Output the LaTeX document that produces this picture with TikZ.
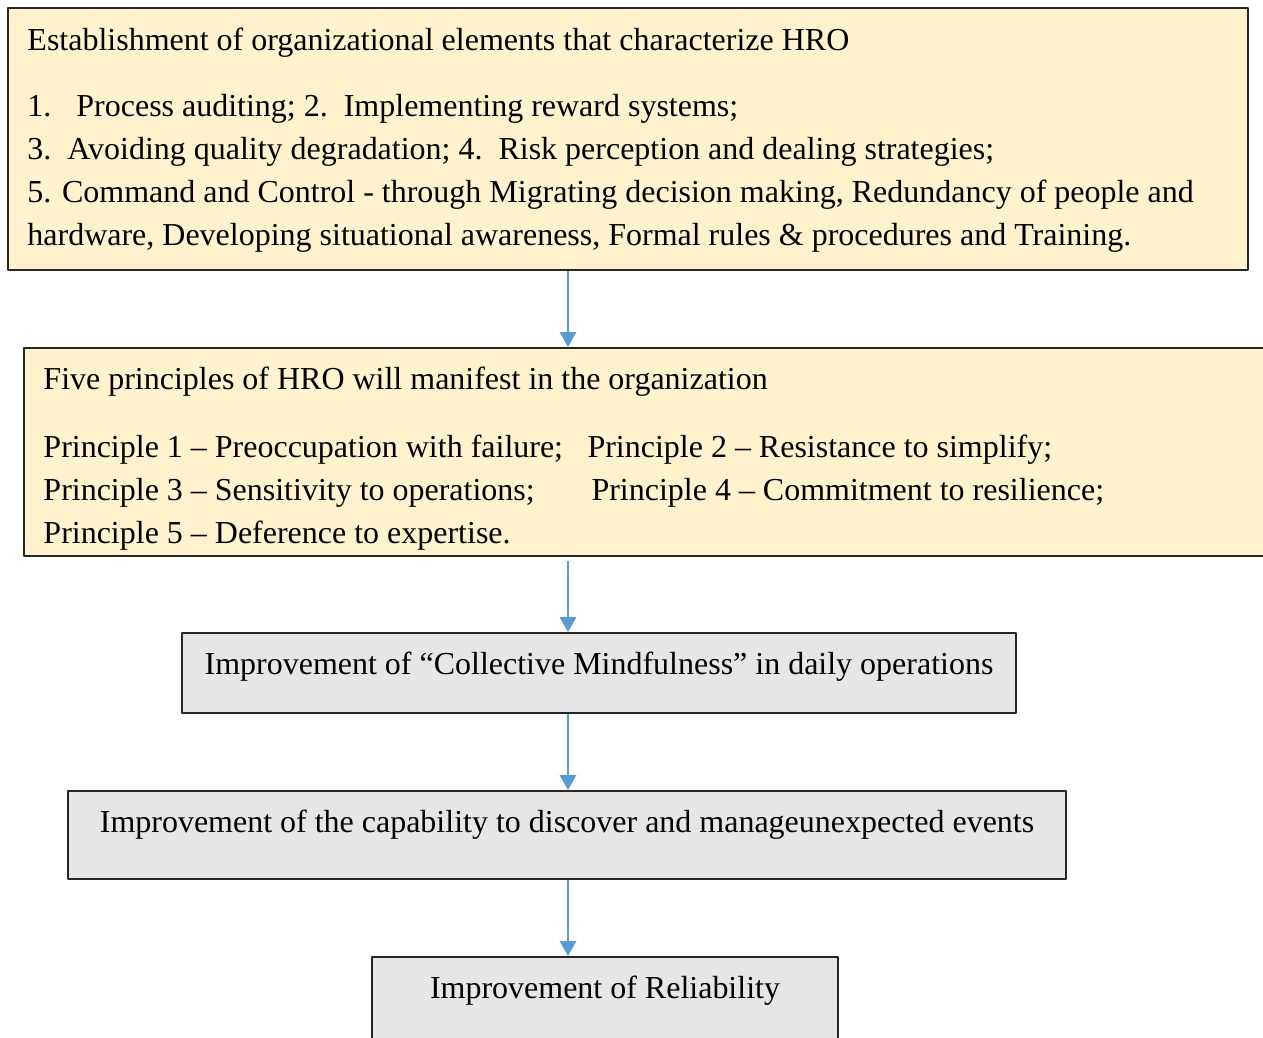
\documentclass[tikz,border=0pt]{standalone}
\usepackage{fontspec}
\setmainfont{Liberation Serif}
\usetikzlibrary{arrows.meta}
\definecolor{hrocream}{HTML}{FFF2CC}
\definecolor{hrogray}{HTML}{E6E6E6}
\definecolor{hroblue}{HTML}{5B9BD5}
\begin{document}
\begin{tikzpicture}[line join=round,
		every node/.style={font=\fontsize{18.2}{24.4}\selectfont},
		yellowbox/.style={draw=black!85,fill=hrocream,line width=1pt,inner sep=0pt},
		graybox/.style={draw=black!85,fill=hrogray,line width=1pt,inner sep=0pt},
		boxtext/.style={inner sep=0pt,align=left,anchor=north west},
		centertext/.style={inner sep=0pt,anchor=north},
		flow/.style={draw=hroblue,line width=1.6pt,-{Triangle[width=0.32cm,length=0.3cm]}}]
	\useasboundingbox (0,0) rectangle (25.26,-20.74);
	% the five boxes, top to bottom
	\node[yellowbox,minimum width=24.8cm,minimum height=5.24cm] (elements) at (12.56,-2.78) {};
	\node[yellowbox,minimum width=25.12cm,minimum height=4.16cm] (principles) at (13.04,-9.04) {};
	\node[graybox,minimum width=16.68cm,minimum height=1.6cm] (mindful) at (11.98,-13.46) {};
	\node[graybox,minimum width=19.96cm,minimum height=1.76cm] (capability) at (11.34,-16.70) {};
	\node[graybox,minimum width=9.32cm,minimum height=2.06cm] (reliability) at (12.10,-20.17) {};
	% texts
	\node[boxtext] (elements-text) at ([shift={(0.4,-0.40)}]elements.north west) {Establishment of organizational elements that characterize HRO\\[0.48cm]
		1.\hspace{0.5cm}Process auditing; 2.\ \ Implementing reward systems;\\
		3.\ \ Avoiding quality degradation; 4.\ \ Risk perception and dealing strategies;\\
		5. Command and Control - through Migrating decision making, Redundancy of people and\\
		hardware, Developing situational awareness, Formal rules \& procedures and Training.};
	\node[boxtext] (principles-text) at ([shift={(0.4,-0.38)}]principles.north west) {Five principles of HRO will manifest in the organization\\[0.52cm]
		\makebox[10.88cm][l]{Principle 1 -- Preoccupation with failure;}Principle 2 -- Resistance to simplify;\\
		\makebox[10.96cm][l]{Principle 3 -- Sensitivity to operations;}Principle 4 -- Commitment to resilience;\\
		Principle 5 -- Deference to expertise.};
	\node[centertext] (mindful-text) at ([yshift=-0.38cm]mindful.north) {Improvement of ``Collective Mindfulness'' in daily operations};
	\node[centertext] (capability-text) at ([yshift=-0.38cm]capability.north) {Improvement of the capability to discover and manageunexpected events};
	\node[centertext] (reliability-text) at ([yshift=-0.38cm]reliability.north) {Improvement of Reliability};
	% arrows down the middle
	\coordinate (spine) at (11.36,0);
	\draw[flow] (elements.south -| spine) -- (principles.north -| spine);
	\draw[flow,shorten <=0.08cm] (principles.south -| spine) -- (mindful.north -| spine);
	\draw[flow] (mindful.south -| spine) -- (capability.north -| spine);
	\draw[flow] (capability.south -| spine) -- (reliability.north -| spine);
\end{tikzpicture}
\end{document}
